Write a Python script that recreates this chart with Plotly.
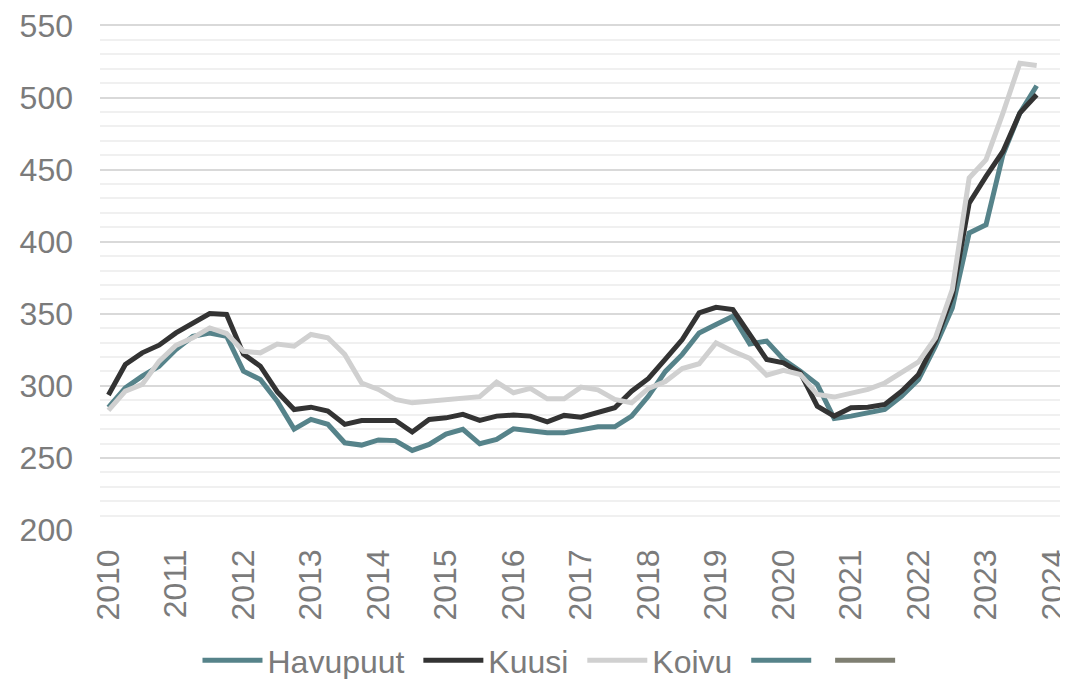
import plotly.graph_objects as go

# Quarterly data 2010Q1 .. 2023Q4
years_start = 2010
quarters = 56

havupuut = [285, 298.6, 306.7, 313.6, 325.2, 334.4, 336.7, 334.4, 310.2, 304.4,
            289.4, 270, 276.7, 273.3, 260.5, 258.9, 262.5, 262, 255.2, 259.4,
            266.5, 269.8, 259.8, 262.8, 270.2, 269, 267.4, 267.4, 269.8, 271.6,
            271.6, 279, 292.9, 310, 321.8, 336.7, 342.5, 348.3, 329.1, 331,
            318.3, 310.2, 301, 277.4, 279, 281.3, 283.6, 292.9, 304.4, 327.5,
            354, 406, 411.8, 460.3, 489.2, 508.2]

kuusi = [293.6, 314.8, 322.9, 328.2, 336.7, 343.7, 350.2, 349.5, 322, 313.6,
         296, 283.6, 285.2, 282.5, 273.3, 276, 276, 276, 268, 276.7,
         277.8, 280.2, 276, 279, 279.7, 279, 275, 279.5, 278.3, 281.3,
         284.8, 296.3, 305.1, 318.5, 332.1, 350.6, 354.5, 352.9, 335.6, 318.3,
         316, 309, 285.9, 279, 284.8, 285.2, 287.1, 296.3, 307.9, 331,
         362.2, 426.8, 445.3, 462.6, 489.2, 501.9]

koivu = [283, 296.3, 301, 317, 328, 333.3, 340.2, 336.3, 324, 322.9,
         329, 327.5, 335.6, 333.3, 321.8, 302, 297.5, 290.6, 288.2, 289.4,
         290.6, 291.7, 292.5, 302.6, 295.2, 298.2, 291, 291, 299.1, 297.2,
         290.6, 288.2, 298.2, 303, 312, 315.3, 329.8, 324, 319, 307.4,
         310.7, 307.9, 294, 292.2, 295.2, 297.5, 302, 309, 316.6, 333.3,
         366.8, 444.2, 456.9, 489.2, 523.8, 522.2]

series_names = ["Havupuut", "Kuusi", "Koivu", "", ""]

x_vals = [years_start + 0.25 * i for i in range(quarters)]
tick_years = list(range(2010, 2025))
tick_labels = [str(y) for y in tick_years]

TEAL = "#56838a"
DARK = "#333333"
LIGHT = "#d0d0d0"
OLIVE = "#7f7f72"
TXT = "#7b7b7b"
LW = 5
FS = 32
NB = "\u00a0"

fig = go.Figure()
fig.add_trace(go.Scatter(x=x_vals, y=havupuut, name=series_names[0] + NB, mode="lines",
                         line=dict(color=TEAL, width=LW)))
fig.add_trace(go.Scatter(x=x_vals, y=kuusi, name=series_names[1] + NB, mode="lines",
                         line=dict(color=DARK, width=LW)))
fig.add_trace(go.Scatter(x=x_vals, y=koivu, name=series_names[2] + NB, mode="lines",
                         line=dict(color=LIGHT, width=LW)))
fig.add_trace(go.Scatter(x=[None], y=[None], name=series_names[3] + NB, mode="lines",
                         line=dict(color=TEAL, width=LW)))
fig.add_trace(go.Scatter(x=[None], y=[None], name=series_names[4] + NB, mode="lines",
                         line=dict(color=OLIVE, width=LW)))

fig.update_layout(
    width=1060, height=671,
    margin=dict(l=92, r=6, t=16, b=149, autoexpand=False),
    paper_bgcolor="white", plot_bgcolor="white",
    font=dict(family="Liberation Sans, Arial, sans-serif", size=FS, color=TXT),
    showlegend=True,
    legend=dict(orientation="h", xanchor="center", x=0.474, yanchor="middle", y=-0.258,
                font=dict(size=FS, color=TXT), itemwidth=60, tracegroupgap=0,
                bgcolor="rgba(0,0,0,0)"),
)
fig.update_xaxes(range=[2009.875, 2024.125], tickmode="array", tickvals=tick_years,
                 ticktext=tick_labels, tickangle=-90, showgrid=False, zeroline=False,
                 showline=False, ticks="", ticklabelstandoff=12, automargin=False,
                 ticklabeloverflow="allow", tickfont=dict(size=FS, color=TXT))
fig.update_yaxes(range=[200, 551], dtick=50, tick0=200, showgrid=True, gridcolor="#d9d9d9",
                 gridwidth=1.5, zeroline=False, showline=False, ticks="", automargin=False,
                 ticklabelstandoff=26, ticklabeloverflow="allow",
                 tickfont=dict(size=FS, color=TXT),
                 minor=dict(dtick=10, showgrid=True, gridcolor="#f0f0f0", gridwidth=1.5))

fig.write_html("out.html")
